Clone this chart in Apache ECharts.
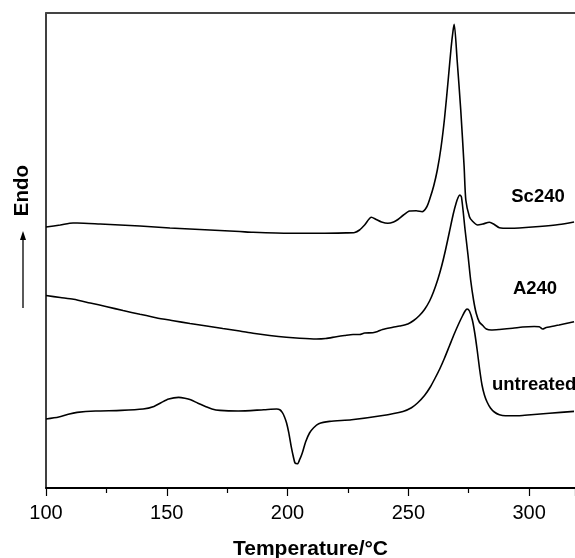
<!DOCTYPE html>
<html>
<head>
<meta charset="utf-8">
<script src="https://cdn.jsdelivr.net/npm/echarts@6/dist/echarts.min.js"></script>
<style>html,body{margin:0;padding:0;background:#fff;}#chart{width:575px;height:558px;}</style>
</head>
<body>
<div id="chart"></div>
<script>
// Temperature (°C) and heat flow (arbitrary units, endo up)
const sc240Temp = [100,105.9,111.2,112.9,122.4,138.9,151.3,163.7,180.2,185.6,200.9,213.3,224.3,227.8,229.8,231.9,234.7,236.7,238.9,241.5,243.9,245.7,248,250.5,253.3,255.7,257.6,259,260.5,262,263.5,265,266.5,267.7,268.5,269,270.2,271.7,273.1,273.8,275.3,276.5,278.7,280.8,283.6,285.6,287.7,291.8,295.9,304.2,312.4,318.6];
const sc240Flow = [261,263,265,265,264,262,260,258.5,256.5,255.7,254.7,254.7,255.1,255.5,258,263,270.7,268.5,266,264.7,266,268.5,273,277,277.3,276.3,281,290,302,318,340,370,408,440,457,463.7,428,378,321.3,288,271.3,267,263,264,265.7,263.5,260.3,259.7,260,261.5,263.5,266];

const a240Temp = [100,105.9,111.4,118.3,125.2,131.9,138.9,145.5,152.7,159.6,166.5,173.2,180.2,185.7,192.6,199.5,205,211.9,215.8,220.2,223.6,227.1,229.8,231.9,235.3,237.3,239.3,243.6,246.4,249.8,252.2,254.6,256.7,258.8,260.4,262.2,263.8,265.3,267,268.6,269.8,270.6,271.3,272,273.5,274.7,275.8,277,278.1,279.4,280.8,282.3,284.3,287.7,293.2,297.3,302.1,304.2,305.6,307.1,312.4,318.6];
const a240Flow = [192.5,190.5,188.7,185,181.3,177.5,173.7,170.3,167.3,164.5,162,159.5,157,154.7,152.5,150.7,149.7,149,149.5,151.3,152.5,153.5,153.5,155,155.3,156.5,158.5,160.7,162,164,167.5,172.5,178.5,187,196,208.5,222,237,256,274,285,290.5,293,291,258,233,208,188,174.7,166,162.5,159,158,158.5,159.7,161,161.5,161.3,159,160.5,163,166.3];

const untreatedTemp = [100,105.3,109.2,112.9,120.5,131.1,140.2,144.7,147.6,150.8,154.9,157.5,159.9,162.9,166,168.7,172,179.6,190.2,195.5,196.8,197.8,198.7,199.6,200.5,201.5,202.4,203.1,204.1,205,206.1,207.5,209.1,210.8,212.9,217.4,226.5,238.7,247.8,251.3,253.8,256.7,259.1,261,263,265,267,269,271,272.5,273.5,274.3,275.3,276.5,277.5,278.5,279.5,280.5,281.5,282.6,284,285.6,287.7,290.2,296,300.8,308.4,318.6];
const untreatedFlow = [69,71,73.8,75.6,77,77.6,79,81.6,85.3,89,90.6,89.8,88.3,84.8,81.6,79,77.6,77,78.3,79,78.3,75.6,71.3,65,55.3,41.6,31.3,25,24.3,28.3,35,46.3,55,60.3,64.3,66.6,68.3,72.3,76.6,80.3,85,92.5,101,109.5,119,130,142,154,165,172.5,177,179,177,168,155,138,119,103,93,86,80,76,73.3,72.3,72.3,73.3,74.8,76.6];

const seriesNames = ['Sc240','A240','untreated'];
const xTickLabels = [100,150,200,250,300];

function pairs(t, v){ return t.map((x,i)=>[x, v[i]]); }

const chart = echarts.init(document.getElementById('chart'));
const FONT = '"Liberation Sans", Arial, Helvetica, sans-serif';
const lineSeries = (name, t, v) => ({
  name, type: 'line', data: pairs(t, v), showSymbol: false, smooth: 0.25,
  lineStyle: { color: '#000', width: 1.6 }, clip: true, silent: true
});
const seriesLabel = (text, x, y, align) => ({
  type: 'text', x, y,
  style: { text, fontFamily: FONT, fontSize: 18.5, fontWeight: 'bold', fill: '#000', align, verticalAlign: 'middle' }
});

chart.setOption({
  animation: false,
  backgroundColor: '#fff',
  grid: { left: 46, right: 0, top: 13, bottom: 70, containLabel: false, outerBoundsMode: 'none' },
  xAxis: [{
    type: 'value', min: 100, max: 319, interval: 50,
    name: 'Temperature/°C', nameLocation: 'middle', nameGap: 51,
    nameTextStyle: { fontFamily: FONT, fontSize: 21, fontWeight: 'bold', color: '#000' },
    axisLine: { show: true, lineStyle: { color: '#000', width: 2 } },
    axisTick: { show: true, length: 8, inside: false, lineStyle: { color: '#000', width: 1.2 } },
    minorTick: { show: true, splitNumber: 2, length: 5, lineStyle: { color: '#000', width: 1.2 } },
    axisLabel: { fontFamily: FONT, fontSize: 20, color: '#000', margin: 15,
      formatter: v => xTickLabels.indexOf(v) >= 0 ? String(v) : '' },
    splitLine: { show: false }
  }, {
    type: 'value', position: 'top', min: 100, max: 319,
    axisLine: { show: true, onZero: false, lineStyle: { color: '#444', width: 2 } },
    axisTick: { show: false }, axisLabel: { show: false }, splitLine: { show: false }
  }],
  yAxis: {
    type: 'value', min: 0, max: 475,
    axisLine: { show: true, lineStyle: { color: '#000', width: 1.5 } },
    axisTick: { show: false }, axisLabel: { show: false }, splitLine: { show: false }
  },
  graphic: [
    { type: 'text', left: 12, top: 165, rotation: Math.PI/2, originX: 0, originY: 0,
      style: { text: 'Endo', fontFamily: FONT, fontSize: 20.5, fontWeight: 'bold', fill: '#000' } },
    { type: 'line', shape: { x1: 23, y1: 308, x2: 23, y2: 238 }, style: { stroke: '#000', lineWidth: 1.3 } },
    { type: 'polygon', shape: { points: [[23, 231], [20, 240], [26, 240]] }, style: { fill: '#000' } },
    seriesLabel(seriesNames[0], 538, 197, 'center'),
    seriesLabel(seriesNames[1], 535, 289, 'center'),
    seriesLabel(seriesNames[2], 492, 385, 'left')
  ],
  series: [
    lineSeries(seriesNames[0], sc240Temp, sc240Flow),
    lineSeries(seriesNames[1], a240Temp, a240Flow),
    lineSeries(seriesNames[2], untreatedTemp, untreatedFlow)
  ]
});
</script>
</body>
</html>
